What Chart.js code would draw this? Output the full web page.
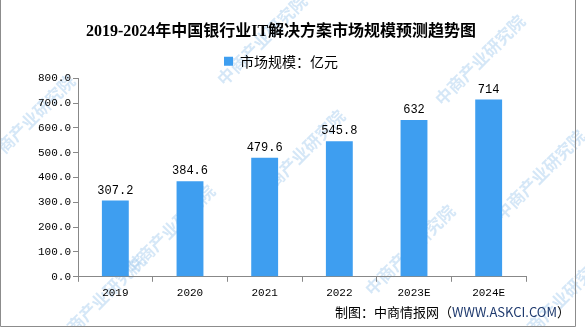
<!DOCTYPE html>
<html><head><meta charset="utf-8">
<script src="https://cdn.jsdelivr.net/npm/chart.js@4/dist/chart.umd.min.js"></script>
<style>html,body{margin:0;padding:0;background:#fff}#wrap{width:585px;height:327px;position:relative}</style>
</head><body><div id="wrap"><canvas id="c" width="585" height="327"></canvas></div>
<script>
const categories = ["2019","2020","2021","2022","2023E","2024E"];
const marketSize = [307.2, 384.6, 479.6, 545.8, 632, 714];
const seriesName = "市场规模：亿元";
const titleText = "2019-2024年中国银行业IT解决方案市场规模预测趋势图";
const sourceText = ["制图：中商情报网（", "WWW.ASKCI.COM", "）"];
const yTicks = [0,100,200,300,400,500,600,700,800];

const barColor = "#3e9ef0";
const monoFont = "'Liberation Mono', 'DejaVu Sans Mono', monospace";
const cjkSans = "'Noto Sans CJK SC', 'Noto Sans', sans-serif";

const extras = {
  id: 'extras',
  beforeDraw(chart) {
    const ctx = chart.ctx;
    ctx.save();
    ctx.fillStyle = 'rgba(150,195,235,0.4)';
    ctx.font = "bold 17px " + cjkSans;
    const marks = [[262,40],[480,60],[30,120],[300,155],[540,175],[170,230],[410,250],[560,300],[100,300]];
    marks.forEach(([x,y]) => {
      ctx.save(); ctx.translate(x,y); ctx.rotate(-Math.PI/4);
      ctx.textAlign='center'; ctx.textBaseline='middle';
      ctx.fillText("中商产业研究院",0,0); ctx.restore();
    });
    ctx.restore();
  },
  afterDraw(chart) {
    const ctx = chart.ctx;
    ctx.save();
    ctx.strokeStyle = '#8c8c8c'; ctx.lineWidth = 1;
    ctx.beginPath();
    ctx.moveTo(0.5,0); ctx.lineTo(0.5,326.5); ctx.lineTo(575.5,326.5); ctx.lineTo(575.5,0);
    ctx.stroke();
    const meta = chart.getDatasetMeta(0);
    ctx.fillStyle = '#000';
    ctx.font = "12px " + monoFont;
    ctx.textAlign = 'center'; ctx.textBaseline = 'bottom';
    meta.data.forEach((bar,i) => {
      ctx.fillText(String(marketSize[i]), bar.x, bar.y - 4);
    });
    ctx.font = "13px " + cjkSans;
    ctx.textBaseline = 'middle'; ctx.textAlign = 'left';
    let w = 0; sourceText.forEach(s => w += ctx.measureText(s).width);
    let x = 570 - w; const y = 312;
    const cols = ['#000', '#1f3a6e', '#000'];
    sourceText.forEach((s,i) => { ctx.fillStyle = cols[i]; ctx.fillText(s,x,y); x += ctx.measureText(s).width; });
    ctx.restore();
  }
};

new Chart(document.getElementById('c'), {
  type: 'bar',
  data: {
    labels: categories,
    datasets: [{ label: seriesName, data: marketSize, backgroundColor: barColor,
      barPercentage: 0.36, categoryPercentage: 1.0 }]
  },
  options: {
    responsive: false, animation: false, devicePixelRatio: 1,
    layout: { padding: { left: 36, right: 59, top: 0, bottom: 22 } },
    plugins: {
      title: { display: true, text: titleText, color: '#000',
        font: { family: "'Liberation Serif', 'Noto Sans CJK SC', serif", size: 16, weight: 'bold' },
        padding: { top: 22, bottom: 4 } },
      legend: { display: true, position: 'top',
        labels: { boxWidth: 9, boxHeight: 9, color: '#000', padding: 9,
          font: { family: cjkSans, size: 14 } } },
      tooltip: { enabled: false }
    },
    scales: {
      y: { min: 0, max: 800,
        afterBuildTicks: (s) => { s.ticks = yTicks.map(v => ({ value: v })); },
        ticks: { color: '#000', padding: 2, font: { family: monoFont, size: 11 },
          callback: (v) => Number(v).toFixed(1) },
        grid: { drawOnChartArea: false, tickLength: 5, color: '#888' },
        border: { color: '#888' } },
      x: {
        ticks: { color: '#000', padding: 5, font: { family: monoFont, size: 11 } },
        grid: { drawOnChartArea: false, tickLength: 5, color: '#888', offset: true },
        border: { color: '#888' } }
    }
  },
  plugins: [extras]
});
</script></body></html>
